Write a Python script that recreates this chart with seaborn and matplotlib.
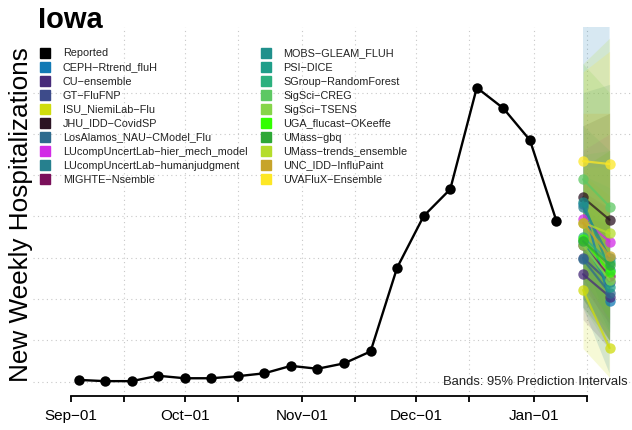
import matplotlib
matplotlib.use("Agg")
import matplotlib.pyplot as plt
import matplotlib.dates as mdates
from matplotlib.lines import Line2D
import numpy as np
import pandas as pd
import seaborn as sns

# weekly reported hospitalizations (Saturdays)
report_dates = pd.date_range("2022-09-03", "2023-01-07", freq="7D")
reported = [4, 1, 1, 14, 8, 8, 13, 20, 38, 31, 44, 73, 276, 401, 466, 712, 662, 585, 389]

forecast_dates = pd.to_datetime(["2023-01-14", "2023-01-21"])

models = [
    "CEPH-Rtrend_fluH", "CU-ensemble", "GT-FluFNP", "ISU_NiemiLab-Flu",
    "JHU_IDD-CovidSP", "LosAlamos_NAU-CModel_Flu", "LUcompUncertLab-hier_mech_model",
    "LUcompUncertLab-humanjudgment", "MIGHTE-Nsemble", "MOBS-GLEAM_FLUH", "PSI-DICE",
    "SGroup-RandomForest", "SigSci-CREG", "SigSci-TSENS", "UGA_flucast-OKeeffe",
    "UMass-gbq", "UMass-trends_ensemble", "UNC_IDD-InfluPaint", "UVAFluX-Ensemble",
]
colors = [
    "#127ab5", "#472b7a", "#3d4b8a", "#cfdc0c",
    "#2c1424", "#2e6b8e", "#d22be6",
    "#26808e", "#7a0f5a", "#20908c", "#1f9e89",
    "#2cb17e", "#5dc863", "#86d549", "#33ff00",
    "#2ea836", "#b5dd2b", "#c7a42a", "#fde725",
]
# point forecasts: 1 and 2 weeks ahead
fc_wk1 = [430, 260, 300, 222, 446, 296, 393, 424, 330, 436, 340, 350, 490, 330, 345, 340, 385, 385, 534]
fc_wk2 = [195, 206, 240, 81, 392, 215, 339, 300, 255, 270, 230, 290, 424, 246, 266, 283, 359, 304, 527]
# 95% prediction interval bounds
lo_wk1 = [180, 150, 180, 80, 300, 200, 250, 250, 230, 300, 220, 200, 330, 180, 250, 200, 220, 200, 350]
hi_wk1 = [1000, 400, 450, 500, 620, 420, 560, 700, 460, 620, 500, 550, 770, 520, 450, 520, 770, 650, 750]
lo_wk2 = [20, 80, 100, 10, 200, 100, 150, 120, 140, 130, 100, 120, 200, 80, 150, 100, 100, 100, 250]
hi_wk2 = [1200, 380, 420, 450, 650, 380, 600, 720, 420, 560, 470, 560, 700, 520, 400, 560, 832, 650, 800]

palette = dict(zip(models, colors))
obs = pd.DataFrame({"date": report_dates, "value": reported})
fc = pd.DataFrame({
    "model": np.repeat(models, 2),
    "date": np.tile(forecast_dates, len(models)),
    "value": np.ravel(np.column_stack([fc_wk1, fc_wk2])),
})

sns.set_style("white")
plt.rcParams["font.family"] = ["Liberation Sans", "DejaVu Sans"]
plt.rcParams["text.color"] = "black"

fig = plt.figure(figsize=(6.32, 4.30), dpi=100)
ax = fig.add_axes([33 / 632, 1 - 396 / 430, 599 / 632, 369 / 430])

grid_kw = dict(color="#c8c8c8", lw=0.8, ls=(0, (1, 3)), zorder=0)
for v in range(0, 800, 100):
    ax.axhline(v, **grid_kw)
ticks = pd.to_datetime(["2022-09-01", "2022-09-15", "2022-10-01", "2022-10-15", "2022-11-01",
                        "2022-11-15", "2022-12-01", "2022-12-15", "2023-01-01", "2023-01-15"])
for t in ticks[1:]:
    ax.axvline(t, **grid_kw)

for m, c, a, b, p, q in zip(models, colors, lo_wk1, lo_wk2, hi_wk1, hi_wk2):
    ax.fill_between(forecast_dates, [a, b], [p, q], color=c, alpha=0.17, lw=0, zorder=1)

sns.lineplot(data=obs, x="date", y="value", color="black", marker="o", markersize=7.5,
             markeredgewidth=0, lw=1.7, ax=ax, zorder=3)
sns.lineplot(data=fc, x="date", y="value", hue="model", palette=palette, marker="o",
             markersize=7.5, markeredgewidth=0, lw=1.6, alpha=0.75, legend=False, ax=ax, zorder=4)

ax.set_xlim(pd.Timestamp("2022-08-22"), pd.Timestamp("2023-01-26 22:00"))
ax.set_ylim(-35, 859)
ax.set_yticks([])
ax.set_xlabel("")
ax.set_ylabel("")
ax.set_xticks(ticks)
ax.set_xticklabels([t.strftime("%b−%d") if t.day == 1 else "" for t in ticks], fontsize=11)
ax.tick_params(axis="x", length=4.5, width=1.3, pad=5, color="black", labelcolor="black", bottom=True)
for s in ["left", "right", "top"]:
    ax.spines[s].set_visible(False)
ax.spines["bottom"].set_bounds(mdates.date2num(ticks[0]), mdates.date2num(ticks[-1]))
ax.spines["bottom"].set_linewidth(1.3)
ax.spines["bottom"].set_color("black")

fig.text(38 / 632, 1 - 28 / 430, "Iowa", fontsize=21, fontweight="bold", va="baseline", color="black")
fig.text(21 / 632, 1 - 214.5 / 430, "New Weekly Hospitalizations", fontsize=18.8,
         rotation=90, ha="center", va="center", color="black")
fig.text(628 / 632, 1 - 385 / 430, "Bands: 95% Prediction Intervals", fontsize=9.4,
         ha="right", va="baseline", color="#222222")

handles = [Line2D([], [], marker="s", ls="none", color="black", markersize=6.5)]
handles += [Line2D([], [], marker="s", ls="none", color=c, markersize=6.5) for c in colors]
labels = ["Reported"] + [m.replace("-", "−") for m in models]
leg = fig.legend(handles, labels, loc="upper left", bbox_to_anchor=(39.6 / 632, 1 - 48.5 / 430),
                 ncol=2, frameon=False, fontsize=7.8, handlelength=1.0, handletextpad=1.15,
                 columnspacing=1.16, labelspacing=0.37, borderpad=0, borderaxespad=0)
for t in leg.get_texts():
    t.set_color("#222222")

fig.savefig("out.png", dpi=100)
